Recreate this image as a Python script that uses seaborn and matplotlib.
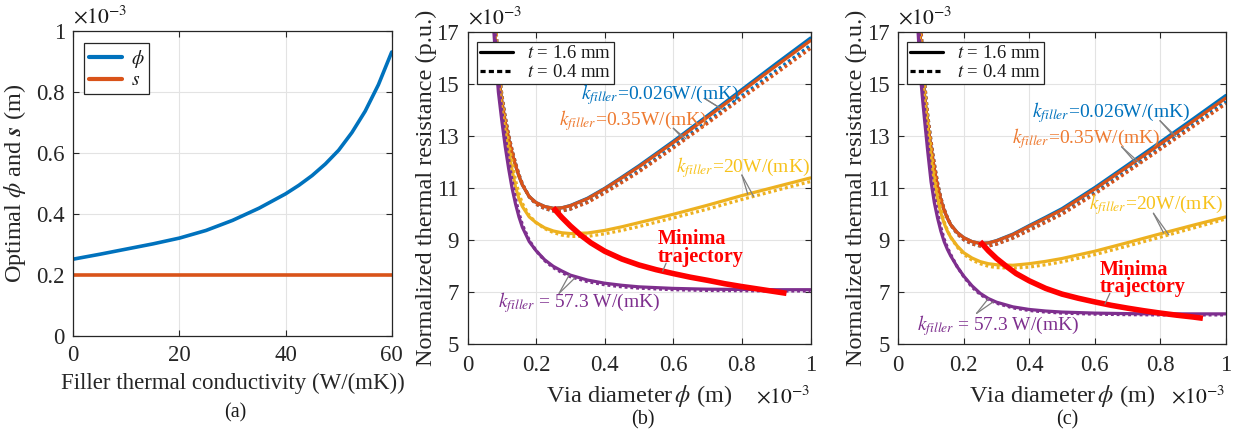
import numpy as np
import pandas as pd
import matplotlib
matplotlib.use("Agg")
import matplotlib.pyplot as plt
from matplotlib.lines import Line2D
import seaborn as sns

# ---------------- data ----------------
# panel (a): optimal phi and s vs filler conductivity (values x1e-3 m)
k_filler = [0, 5, 10, 15, 20, 25, 30, 35, 40, 42.5, 45, 47.5, 50, 52.5, 55, 57.5, 60]
phi_opt = [0.253, 0.269, 0.286, 0.303, 0.322, 0.347, 0.38, 0.42, 0.467, 0.495,
           0.527, 0.565, 0.61, 0.668, 0.738, 0.825, 0.932]
s_opt = [0.2] * len(k_filler)

# common via-diameter grid (x1e-3 m)
PHI = [0.055, 0.06, 0.065, 0.07, 0.075, 0.08, 0.09, 0.10, 0.11, 0.12, 0.13, 0.14,
       0.15, 0.16, 0.18, 0.20, 0.225, 0.25, 0.275, 0.30, 0.35, 0.40, 0.45, 0.50,
       0.60, 0.70, 0.80, 0.90, 1.00]

# panel (b) -- normalized thermal resistance (x1e-3 p.u.)
b_blue_s = [27.5, 24.5, 21.8, 19.7, 18.1, 16.9, 15.4, 14.35, 13.55, 12.9, 12.35, 11.88,
            11.47, 11.13, 10.68, 10.45, 10.3, 10.23, 10.25, 10.34, 10.62, 11.0, 11.43, 11.87,
            12.81, 13.8, 14.8, 15.8, 16.78]
b_blue_d = [29.0, 26.5, 23.6, 21.1, 19.2, 17.7, 15.8, 14.6, 13.75, 13.05, 12.47, 11.97,
            11.53, 11.17, 10.67, 10.39, 10.22, 10.13, 10.13, 10.2, 10.48, 10.86, 11.27, 11.68,
            12.62, 13.58, 14.56, 15.53, 16.5]
b_orange_s = [27.5, 24.5, 21.8, 19.7, 18.1, 16.9, 15.4, 14.35, 13.55, 12.9, 12.35, 11.88,
              11.47, 11.13, 10.68, 10.45, 10.3, 10.23, 10.25, 10.33, 10.6, 10.98, 11.4, 11.83,
              12.76, 13.74, 14.73, 15.71, 16.68]
b_orange_d = [29.0, 26.5, 23.6, 21.1, 19.2, 17.7, 15.8, 14.6, 13.75, 13.05, 12.47, 11.97,
              11.53, 11.17, 10.67, 10.39, 10.22, 10.13, 10.13, 10.2, 10.45, 10.82, 11.22, 11.63,
              12.55, 13.5, 14.47, 15.42, 16.38]
b_yellow_s = [27.0, 24.0, 21.4, 19.4, 17.9, 16.7, 15.1, 14.0, 13.2, 12.45, 11.7, 11.05,
              10.6, 10.3, 9.9, 9.68, 9.48, 9.36, 9.29, 9.26, 9.28, 9.38, 9.52, 9.68,
              10.0, 10.35, 10.72, 11.06, 11.4]
b_yellow_d = [29.0, 26.3, 23.5, 20.9, 19.0, 17.6, 15.6, 14.4, 13.5, 12.75, 12.0, 11.3,
              10.8, 10.42, 9.95, 9.68, 9.45, 9.3, 9.2, 9.15, 9.15, 9.25, 9.38, 9.53,
              9.86, 10.2, 10.57, 10.92, 11.26]
b_purple_s = [26.5, 23.5, 21.0, 19.0, 17.4, 16.4, 14.7, 13.6, 12.6, 11.75, 11.0, 10.4,
              9.9, 9.5, 8.95, 8.6, 8.25, 8.0, 7.82, 7.66, 7.47, 7.35, 7.27, 7.21,
              7.15, 7.12, 7.11, 7.1, 7.1]
b_purple_d = [28.5, 25.5, 22.8, 20.4, 18.4, 17.1, 15.3, 14.0, 13.0, 12.1, 11.3, 10.6,
              10.05, 9.6, 9.0, 8.6, 8.22, 7.95, 7.76, 7.6, 7.41, 7.29, 7.21, 7.16,
              7.1, 7.07, 7.06, 7.05, 7.05]
b_traj_x = [0.25, 0.275, 0.30, 0.33, 0.36, 0.40, 0.45, 0.50, 0.55, 0.60, 0.65, 0.70,
            0.75, 0.80, 0.85, 0.90, 0.93]
b_traj_y = [10.25, 9.88, 9.55, 9.2, 8.9, 8.58, 8.28, 8.05, 7.87, 7.72, 7.58, 7.46,
            7.33, 7.22, 7.12, 7.02, 6.96]

# panel (c)
c_blue_s = [19.8, 18.5, 17.3, 16.25, 15.35, 14.6, 13.45, 12.55, 11.75, 11.05, 10.55, 10.15,
            9.85, 9.6, 9.3, 9.1, 8.95, 8.88, 8.9, 8.99, 9.24, 9.57, 9.89, 10.22,
            11.03, 11.9, 12.78, 13.67, 14.57]
c_blue_d = [20.9, 19.5, 18.2, 17.0, 16.0, 15.1, 13.8, 12.8, 11.95, 11.2, 10.63, 10.2,
            9.87, 9.6, 9.25, 9.02, 8.86, 8.78, 8.78, 8.86, 9.1, 9.41, 9.72, 10.04,
            10.84, 11.7, 12.57, 13.45, 14.34]
c_orange_s = [19.8, 18.5, 17.3, 16.25, 15.35, 14.6, 13.45, 12.55, 11.75, 11.05, 10.55, 10.15,
              9.85, 9.6, 9.3, 9.1, 8.95, 8.88, 8.9, 8.98, 9.22, 9.54, 9.85, 10.17,
              10.97, 11.83, 12.7, 13.58, 14.47]
c_orange_d = [20.9, 19.5, 18.2, 17.0, 16.0, 15.1, 13.8, 12.8, 11.95, 11.2, 10.63, 10.2,
              9.87, 9.6, 9.25, 9.02, 8.86, 8.78, 8.78, 8.85, 9.08, 9.38, 9.69, 10.0,
              10.78, 11.63, 12.5, 13.37, 14.25]
c_yellow_s = [19.0, 17.7, 16.6, 15.7, 15.0, 14.35, 13.2, 12.15, 11.25, 10.55, 10.05, 9.65,
              9.35, 9.12, 8.78, 8.52, 8.32, 8.18, 8.1, 8.06, 8.04, 8.1, 8.19, 8.3,
              8.58, 8.91, 9.25, 9.58, 9.9]
c_yellow_d = [20.0, 18.6, 17.4, 16.4, 15.6, 14.85, 13.6, 12.5, 11.5, 10.75, 10.18, 9.72,
              9.38, 9.12, 8.74, 8.46, 8.24, 8.1, 8.0, 7.95, 7.93, 7.97, 8.06, 8.17,
              8.45, 8.78, 9.12, 9.47, 9.82]
c_purple_s = [18.3, 17.1, 16.0, 15.0, 14.3, 13.65, 12.4, 11.25, 10.45, 9.85, 9.35, 8.95,
              8.65, 8.4, 7.98, 7.62, 7.25, 6.96, 6.76, 6.62, 6.44, 6.34, 6.28, 6.24,
              6.2, 6.18, 6.17, 6.17, 6.17]
c_purple_d = [19.5, 18.0, 16.8, 15.7, 14.8, 14.1, 12.8, 11.6, 10.7, 10.05, 9.5, 9.05,
              8.72, 8.45, 7.98, 7.6, 7.2, 6.92, 6.72, 6.58, 6.4, 6.3, 6.24, 6.2,
              6.16, 6.14, 6.13, 6.13, 6.13]
c_traj_x = [0.25, 0.275, 0.30, 0.33, 0.36, 0.40, 0.45, 0.50, 0.55, 0.60, 0.65, 0.70,
            0.75, 0.80, 0.85, 0.90, 0.93]
c_traj_y = [8.95, 8.6, 8.3, 8.0, 7.72, 7.44, 7.15, 6.93, 6.77, 6.63, 6.5, 6.39,
            6.29, 6.2, 6.12, 6.05, 6.0]

x_ticks_a = [0, 20, 40, 60]
y_ticks_a = [0, 0.2, 0.4, 0.6, 0.8, 1]
y_ticklabels_a = ["0", "0.2", "0.4", "0.6", "0.8", "1"]
x_ticks_bc = [0, 0.2, 0.4, 0.6, 0.8, 1]
x_ticklabels_bc = ["0", "0.2", "0.4", "0.6", "0.8", "1"]
y_ticks_bc = [5, 7, 9, 11, 13, 15, 17]

# ---------------- style ----------------
sns.set_theme(style="ticks")
plt.rcParams.update({
    "font.family": ["Liberation Serif", "DejaVu Serif"],
    "mathtext.fontset": "stix",
    "axes.edgecolor": "#262626",
    "axes.linewidth": 0.9,
    "xtick.color": "#262626",
    "ytick.color": "#262626",
    "text.color": "#1a1a1a",
})

BLUE = "#0072BD"
ORANGE = "#D95319"
YELLOW = "#EDB120"
PURPLE = "#7E2F8E"
RED = "#FF0000"
ORANGE_T = "#EE7A30"
YELLOW_T = "#F7C21B"
DOT = (0, (0.9, 0.9))
LW = 2.3
TICK_FS = 16.5
LAB_FS = 16.5

fig = plt.figure(figsize=(12.36, 4.34), dpi=100)
ax_a = fig.add_axes([73.3 / 1236, (434 - 336.3) / 434, 318.4 / 1236, 305 / 434])
ax_b = fig.add_axes([467.5 / 1236, (434 - 344.3) / 434, 343 / 1236, 312 / 434])
ax_c = fig.add_axes([898.3 / 1236, (434 - 344.3) / 434, 327.5 / 1236, 312 / 434])


def style_axes(ax):
    ax.grid(True, color="#E3E3E3", lw=0.8)
    ax.set_axisbelow(True)
    ax.tick_params(direction="in", top=True, right=True, length=4, width=0.8,
                   labelsize=TICK_FS, pad=6)
    for sp in ax.spines.values():
        sp.set_visible(True)
        sp.set_color("#262626")


# ---------------- panel (a) ----------------
sns.lineplot(x=k_filler, y=phi_opt, ax=ax_a, color=BLUE, lw=2.6, estimator=None,
             sort=False, label=r"$\phi$")
sns.lineplot(x=k_filler, y=s_opt, ax=ax_a, color=ORANGE, lw=2.6, estimator=None,
             sort=False, label=r"$s$")
ax_a.set_xlim(0, 60)
ax_a.set_ylim(0, 1)
ax_a.set_xticks(x_ticks_a)
ax_a.set_yticks(y_ticks_a)
ax_a.set_yticklabels(y_ticklabels_a)
style_axes(ax_a)
ax_a.set_xlabel("Filler thermal conductivity (W/(mK))", fontsize=LAB_FS, labelpad=5)
ax_a.set_ylabel(r"Optimal $\phi$ and $\mathbfit{s}$ (m)", fontsize=17.5, labelpad=6)
leg = ax_a.legend(loc="upper left", bbox_to_anchor=(0.034, 0.962), fontsize=14,
                  frameon=True, fancybox=False, edgecolor="#262626", framealpha=1,
                  handlelength=1.7, handletextpad=0.45, borderpad=0.25, labelspacing=0.1,
                  borderaxespad=0)
leg.get_frame().set_linewidth(0.9)
for h in leg.get_lines():
    h.set_linewidth(3.0)
ax_a.text(0.0, 1.01, r"$\times10^{-3}$", transform=ax_a.transAxes, fontsize=15.5,
          ha="left", va="bottom")


# ---------------- panels (b), (c) ----------------
def draw_panel(ax, curves, traj_x, traj_y):
    for yvals, color, ls in curves:
        sns.lineplot(x=PHI, y=yvals, ax=ax, color=color, lw=LW, linestyle=ls,
                     estimator=None, sort=False, legend=False)
    sns.lineplot(x=traj_x, y=traj_y, ax=ax, color=RED, lw=4.0, estimator=None,
                 sort=False, legend=False, solid_capstyle="butt")
    ax.set_xlim(0, 1)
    ax.set_ylim(5, 17)
    ax.set_xticks(x_ticks_bc)
    ax.set_xticklabels(x_ticklabels_bc)
    ax.set_yticks(y_ticks_bc)
    style_axes(ax)
    ax.tick_params(axis="x", pad=8)
    ax.set_xlabel(r"Via diameter$\,\phi$ (m)", fontsize=LAB_FS + 1, labelpad=5)
    ax.set_ylabel("Normalized thermal resistance (p.u.)", fontsize=17.5, labelpad=0)
    ax.text(0.0, 1.01, r"$\times10^{-3}$", transform=ax.transAxes, fontsize=15.5,
            ha="left", va="bottom")
    ax.text(1.0, -0.135, r"$\times10^{-3}$", transform=ax.transAxes, fontsize=15.5,
            ha="right", va="top")
    handles = [Line2D([], [], color="black", lw=2.3),
               Line2D([], [], color="black", lw=2.3, linestyle=(0, (1.6, 1.0)))]
    labels = [r"$t$ = 1.6 mm", r"$t$ = 0.4 mm"]
    lg = ax.legend(handles, labels, loc="upper left", bbox_to_anchor=(0.028, 0.968),
                   fontsize=13.5, frameon=True, fancybox=False, edgecolor="#262626",
                   framealpha=1, handlelength=1.75, handletextpad=0.75, borderpad=0.15,
                   labelspacing=0.1, borderaxespad=0)
    lg.get_frame().set_linewidth(0.9)


def label(ax, text, color, txy, start, targets, fs=14, **kw):
    ax.text(txy[0], txy[1], text, color=color, fontsize=fs, ha=kw.get("ha", "center"),
            va="center", fontweight=kw.get("fw", "normal"), linespacing=0.85, zorder=6)
    for tx, tcurve in targets:
        ty = float(np.interp(tx, tcurve[0], tcurve[1]))
        ax.annotate("", xy=(tx, ty), xytext=start,
                    arrowprops=dict(arrowstyle="-", color="#7f7f7f", lw=0.9,
                                    shrinkA=0, shrinkB=0), zorder=5)


draw_panel(ax_b,
           [(b_blue_s, BLUE, "-"), (b_blue_d, BLUE, DOT),
            (b_orange_s, ORANGE, "-"), (b_orange_d, ORANGE, DOT),
            (b_yellow_s, YELLOW, "-"), (b_yellow_d, YELLOW, DOT),
            (b_purple_s, PURPLE, "-"), (b_purple_d, PURPLE, DOT)],
           b_traj_x, b_traj_y)
draw_panel(ax_c,
           [(c_blue_s, BLUE, "-"), (c_blue_d, BLUE, DOT),
            (c_orange_s, ORANGE, "-"), (c_orange_d, ORANGE, DOT),
            (c_yellow_s, YELLOW, "-"), (c_yellow_d, YELLOW, DOT),
            (c_purple_s, PURPLE, "-"), (c_purple_d, PURPLE, DOT)],
           c_traj_x, c_traj_y)

# annotations panel (b)
label(ax_b, r"$k_{filler}$=0.026W/(mK)", BLUE, (0.562, 14.62), (0.692, 14.45),
      [(0.732, (PHI, b_blue_s)), (0.745, (PHI, b_blue_d))])
label(ax_b, r"$k_{filler}$=0.35W/(mK)", ORANGE_T, (0.484, 13.62), (0.600, 13.31),
      [(0.623, (PHI, b_orange_s)), (0.637, (PHI, b_orange_d))])
label(ax_b, r"$k_{filler}$=20W/(mK)", YELLOW_T, (0.804, 11.78), (0.800, 11.51),
      [(0.817, (PHI, b_yellow_s)), (0.834, (PHI, b_yellow_d))])
label(ax_b, r"$k_{filler}$ = 57.3 W/(mK)", PURPLE, (0.325, 6.59), (0.267, 6.96),
      [(0.297, (PHI, b_purple_s)), (0.313, (PHI, b_purple_d))])
label(ax_b, "Minima\ntrajectory", RED, (0.555, 8.70), (0.579, 8.12),
      [(0.569, (b_traj_x, b_traj_y))], fs=14.5, ha="left", fw="bold")

# annotations panel (c)
label(ax_c, r"$k_{filler}$=0.026W/(mK)", BLUE, (0.651, 13.90), (0.799, 13.60),
      [(0.835, (PHI, c_blue_s)), (0.848, (PHI, c_blue_d))])
label(ax_c, r"$k_{filler}$=0.35W/(mK)", ORANGE_T, (0.575, 12.93), (0.682, 12.60),
      [(0.722, (PHI, c_orange_s)), (0.738, (PHI, c_orange_d))])
label(ax_c, r"$k_{filler}$=20W/(mK)", YELLOW_T, (0.788, 10.36), (0.779, 10.04),
      [(0.810, (PHI, c_yellow_s)), (0.826, (PHI, c_yellow_d))])
label(ax_c, r"$k_{filler}$ = 57.3 W/(mK)", PURPLE, (0.303, 5.74), (0.239, 6.19),
      [(0.275, (PHI, c_purple_s)), (0.290, (PHI, c_purple_d))])
label(ax_c, "Minima\ntrajectory", RED, (0.616, 7.53), (0.646, 6.96),
      [(0.631, (c_traj_x, c_traj_y))], fs=14.5, ha="left", fw="bold")

# sub-figure captions
fig.text(235 / 1236, 1 - 413 / 434, "(a)", fontsize=14.5, ha="center", va="center")
fig.text(643 / 1236, 1 - 420 / 434, "(b)", fontsize=14.5, ha="center", va="center")
fig.text(1067 / 1236, 1 - 420 / 434, "(c)", fontsize=14.5, ha="center", va="center")

fig.savefig("out.png", dpi=100)
